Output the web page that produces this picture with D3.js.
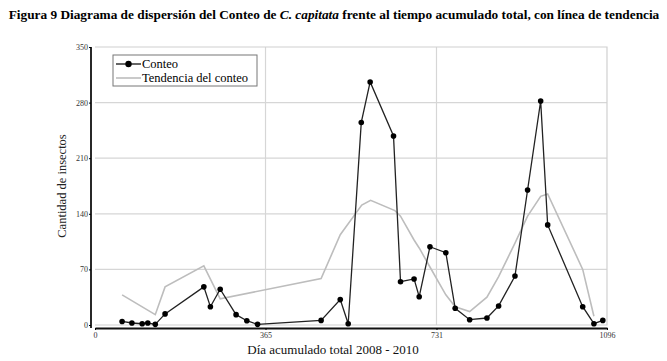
<!DOCTYPE html>
<html>
<head>
<meta charset="utf-8">
<script src="https://cdn.jsdelivr.net/npm/d3@7"></script>
<style>
  body { margin: 0; background: #fff; }
  svg { display: block; font-family: "Liberation Serif", "Times New Roman", serif; }
</style>
</head>
<body>
<div id="chart"></div>
<script>
// Conteo de C. capitata (día acumulado, cantidad)
const days   = [58, 79, 101, 113, 129, 150, 233, 247, 268, 302, 325, 348, 484, 525, 542, 570, 589, 639, 654, 683, 694, 717, 751, 771, 802, 839, 864, 899, 926, 954, 969, 1044, 1068, 1087];
const counts = [4.5, 2.5, 1.6, 2.5, 0.8, 14, 48, 23, 45, 13, 5.4, 0.8, 5.8, 32, 1.6, 255, 306, 238, 54.5, 58, 35.6, 98.5, 91, 21, 6.7, 8.8, 24, 61.6, 170, 282, 126, 23, 1.6, 5.8];

// Tendencia del conteo (vértices visibles)
const trendDays   = [58, 129, 150, 233, 268, 484, 525, 571, 590, 642, 654, 683, 694, 717, 751, 771, 802, 839, 864, 899, 926, 954, 969, 1044, 1068];
const trendValues = [38, 13, 48, 74.5, 33, 58.6, 113.6, 151, 157, 144, 137, 107, 97, 73, 38, 23, 17, 35, 61, 103, 137, 162, 165, 70, 11];

const yTicks = [0, 70, 140, 210, 280, 350];
const xTicks = [0, 365, 731, 1096];

const width = 667, height = 361;
const plot = { left: 95, right: 607, top: 47, bottom: 325 };
const serif = '"Liberation Serif", "Times New Roman", serif';

const svg = d3.select("#chart").append("svg")
  .attr("width", width)
  .attr("height", height);

const x = d3.scaleLinear().domain([0, 1096]).range([plot.left, plot.right]);
const y = d3.scaleLinear().domain([0, 350]).range([plot.bottom, plot.top]);

// Title
const title = svg.append("text")
  .attr("x", 334)
  .attr("y", 19)
  .attr("text-anchor", "middle")
  .style("font-size", "13.3px")
  .style("font-weight", "bold");
title.append("tspan").text("Figura 9 Diagrama de dispersión del Conteo de ");
title.append("tspan").style("font-style", "italic").text("C. capitata");
title.append("tspan").text(" frente al tiempo acumulado total, con línea de tendencia");

// gridlines
svg.append("g")
  .selectAll("line")
  .data(yTicks.slice(1, -1))
  .join("line")
  .attr("x1", plot.left).attr("x2", plot.right)
  .attr("y1", d => y(d)).attr("y2", d => y(d))
  .attr("stroke", "#d6d6d6").attr("stroke-width", 1.2);

svg.append("g")
  .selectAll("line")
  .data([365, 731])
  .join("line")
  .attr("x1", d => x(d)).attr("x2", d => x(d))
  .attr("y1", plot.top).attr("y2", plot.bottom)
  .attr("stroke", "#d6d6d6").attr("stroke-width", 1.2);

// frame top / right / bottom
svg.append("path")
  .attr("d", `M${plot.left},${plot.top}H${plot.right}V${plot.bottom}H${plot.left}`)
  .attr("fill", "none")
  .attr("stroke", "#d0d0d0")
  .attr("stroke-width", 1.2);

// Y axis
const yAxis = svg.append("g")
  .attr("transform", `translate(${plot.left - 4},0)`)
  .call(d3.axisLeft(y).tickValues(yTicks).tickSize(2).tickSizeOuter(0));
yAxis.attr("font-family", serif);
yAxis.select(".domain").attr("stroke", "#111").attr("stroke-width", 1.8)
  .attr("d", `M0,${plot.top}V${plot.bottom + 3}`);
yAxis.selectAll("text").style("font-size", "8px").attr("fill", "#333").attr("x", -3);

// X axis
const xAxis = svg.append("g")
  .attr("transform", `translate(0,${plot.bottom + 3})`)
  .call(d3.axisBottom(x).tickValues(xTicks).tickFormat(d3.format("d")).tickSize(2).tickSizeOuter(0));
xAxis.attr("font-family", serif);
xAxis.select(".domain").attr("stroke", "#111").attr("stroke-width", 1.8);
xAxis.selectAll("text").style("font-size", "8px").attr("fill", "#333").attr("y", 4);

// axis titles
svg.append("text")
  .attr("transform", `translate(66,${(plot.top + plot.bottom) / 2}) rotate(-90)`)
  .attr("text-anchor", "middle")
  .style("font-size", "12.5px")
  .attr("fill", "#222")
  .text("Cantidad de insectos");

svg.append("text")
  .attr("x", 333)
  .attr("y", 354)
  .attr("text-anchor", "middle")
  .style("font-size", "13px")
  .attr("fill", "#111")
  .text("Día acumulado total 2008 - 2010");

// trend line
svg.append("path")
  .datum(d3.zip(trendDays, trendValues))
  .attr("fill", "none")
  .attr("stroke", "#bdbdbd")
  .attr("stroke-width", 1.6)
  .attr("d", d3.line().x(d => x(d[0])).y(d => y(d[1])));

// count line + points
const pts = d3.zip(days, counts);
svg.append("path")
  .datum(pts)
  .attr("fill", "none")
  .attr("stroke", "#222")
  .attr("stroke-width", 1.3)
  .attr("d", d3.line().x(d => x(d[0])).y(d => y(d[1])));

svg.append("g")
  .selectAll("circle")
  .data(pts)
  .join("circle")
  .attr("cx", d => x(d[0]))
  .attr("cy", d => y(d[1]))
  .attr("r", 2.8)
  .attr("fill", "#000");

// legend
const lg = svg.append("g").attr("transform", "translate(113,55)");
lg.append("rect")
  .attr("width", 144).attr("height", 31)
  .attr("fill", "#fff")
  .attr("stroke", "#777").attr("stroke-width", 1);
lg.append("line").attr("x1", 3).attr("x2", 28).attr("y1", 9).attr("y2", 9)
  .attr("stroke", "#111").attr("stroke-width", 1.3);
lg.append("circle").attr("cx", 15.5).attr("cy", 9).attr("r", 3.2).attr("fill", "#000");
lg.append("text").attr("x", 29).attr("y", 13).style("font-size", "12.5px").text("Conteo");
lg.append("line").attr("x1", 3).attr("x2", 28).attr("y1", 23).attr("y2", 23)
  .attr("stroke", "#bdbdbd").attr("stroke-width", 1.6);
lg.append("text").attr("x", 29).attr("y", 27).style("font-size", "12.5px").text("Tendencia del conteo");
</script>
</body>
</html>
